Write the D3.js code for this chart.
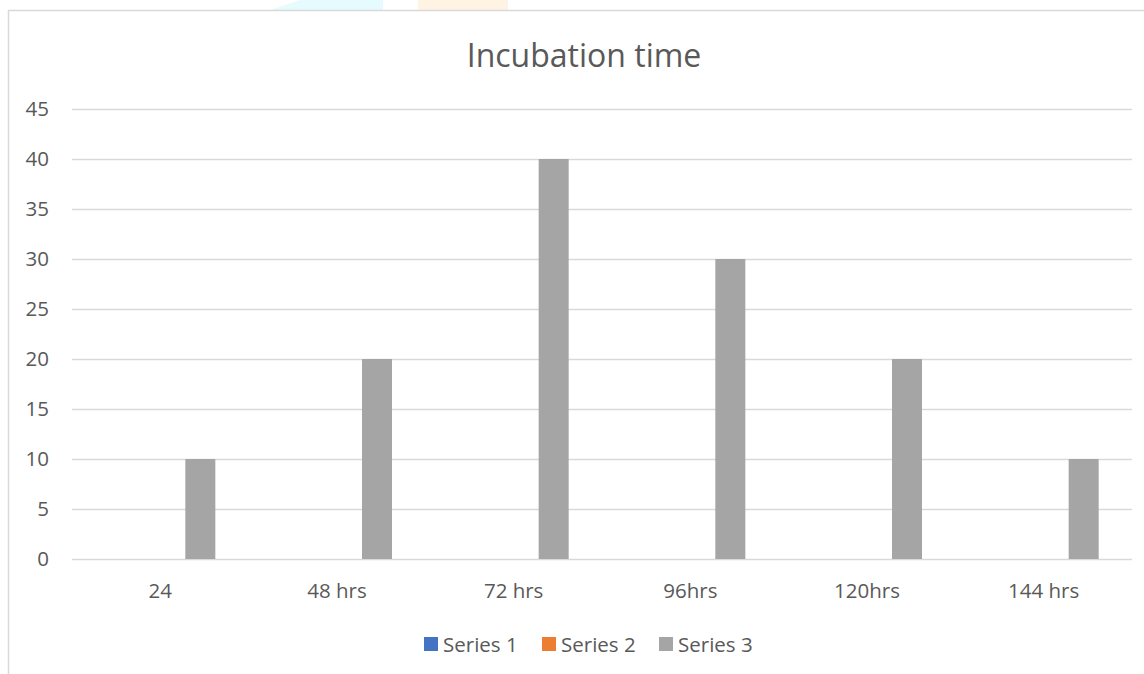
<!DOCTYPE html>
<html>
<head>
<meta charset="utf-8">
<script src="https://cdn.jsdelivr.net/npm/d3@7"></script>
<style>
  html, body { margin: 0; padding: 0; background: #fff; }
  svg { display: block; }
  text { font-family: "Open Sans", sans-serif; fill: #595959; }
</style>
</head>
<body>
<svg id="chart" width="1144" height="674"></svg>
<script>
const title = "Incubation time";
const categories = ["24", "48 hrs", "72 hrs", "96hrs", "120hrs", "144 hrs"];
const seriesNames = ["Series 1", "Series 2", "Series 3"];
const seriesColors = ["#4472c4", "#ed7d31", "#a5a5a5"];
const series1 = [null, null, null, null, null, null];
const series2 = [null, null, null, null, null, null];
const series3 = [10, 20, 40, 30, 20, 10];
const yTicks = [0, 5, 10, 15, 20, 25, 30, 35, 40, 45];

const seriesData = [series1, series2, series3];

const svg = d3.select("#chart");

// faint decorative artefacts at the top edge
svg.append("path").attr("d", "M270,10 L300,0 L383,0 L383,10 Z").attr("fill", "#e6fbfd");
svg.append("rect").attr("x", 418).attr("y", 0).attr("width", 90).attr("height", 10).attr("fill", "#fff3e3");

// chart border
svg.append("path")
  .attr("d", "M8.5,674 L8.5,10.5 L1144,10.5")
  .attr("fill", "none").attr("stroke", "#d9d9d9").attr("stroke-width", 1.5);

const plot = { left: 72, right: 1132, top: 109, bottom: 559 };

const x = d3.scaleBand().domain(categories).range([plot.left, plot.right]).padding(0);
const y = d3.scaleLinear().domain([0, 45]).range([plot.bottom, plot.top]);

const barW = 30, barStep = 40;
const fs = 20.5;

// gridlines
svg.append("g").selectAll("line").data(yTicks).join("line")
  .attr("x1", plot.left).attr("x2", plot.right)
  .attr("y1", d => Math.round(y(d)) + 0.5).attr("y2", d => Math.round(y(d)) + 0.5)
  .attr("stroke", "#d9d9d9").attr("stroke-width", 1.5);

// y labels
svg.append("g").selectAll("text").data(yTicks).join("text")
  .attr("x", 49).attr("y", d => y(d)).attr("dy", "0.35em")
  .attr("text-anchor", "end").attr("font-size", fs).text(d => d);

// bars
seriesData.forEach((vals, si) => {
  svg.append("g").selectAll("rect")
    .data(categories.map((c, i) => ({ c, v: vals[i] })).filter(d => d.v != null))
    .join("rect")
    .attr("x", d => x(d.c) + x.bandwidth() / 2 + (si - 1) * barStep - barW / 2)
    .attr("y", d => y(d.v))
    .attr("width", barW)
    .attr("height", d => y(0) - y(d.v))
    .attr("fill", seriesColors[si]);
});

// x labels
svg.append("g").selectAll("text").data(categories).join("text")
  .attr("x", d => x(d) + x.bandwidth() / 2).attr("y", 598)
  .attr("text-anchor", "middle").attr("font-size", fs).text(d => d);

// title
svg.append("text").attr("x", 584).attr("y", 67)
  .attr("text-anchor", "middle").attr("font-size", 32).text(title);

// legend
const legendX = [424, 542, 659];
const lg = svg.append("g");
seriesNames.forEach((n, i) => {
  lg.append("rect").attr("x", legendX[i]).attr("y", 637).attr("width", 14).attr("height", 14).attr("fill", seriesColors[i]);
  lg.append("text").attr("x", legendX[i] + 19).attr("y", 652).attr("font-size", fs).text(n);
});
</script>
</body>
</html>
